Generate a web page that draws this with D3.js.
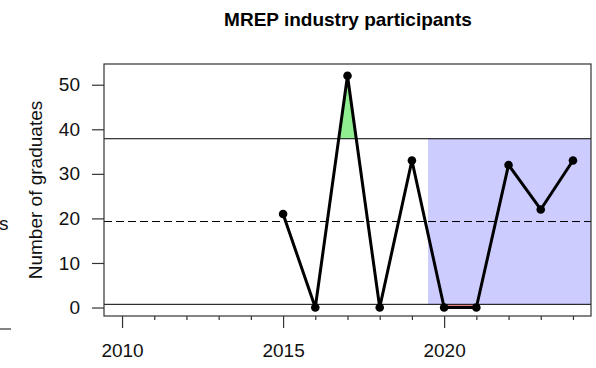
<!DOCTYPE html>
<html>
<head>
<meta charset="utf-8">
<script src="https://cdn.jsdelivr.net/npm/d3@7"></script>
<style>
  html, body { margin: 0; padding: 0; background: #fff; }
  svg { display: block; font-family: "Liberation Sans", Arial, sans-serif; }
</style>
</head>
<body>
<svg id="chart" width="596" height="368"></svg>
<script>
// Graduates per year
const years = [2015, 2016, 2017, 2018, 2019, 2020, 2021, 2022, 2023, 2024];
const graduates = [21, 0, 52, 0, 33, 0, 0, 32, 22, 33];

// Axis ticks
const yTicks = [0, 10, 20, 30, 40, 50];
const xMajorTicks = [2010, 2015, 2020];
const xMinorTicks = [2011, 2012, 2013, 2014, 2016, 2017, 2018, 2019, 2021, 2022, 2023, 2024];

// Start of the highlighted recent period
const periodStart = 2019.5;

const titleText = "MREP industry participants";
const yLabelText = "Number of graduates";

const data = years.map((yr, i) => ({ year: yr, value: graduates[i] }));

// Centre line and limits (mean ± one standard deviation)
const centre = d3.mean(graduates);
const sd = d3.deviation(graduates);
const upper = centre + sd;
const lower = centre - sd;

const svg = d3.select("#chart");
const box = { left: 104, right: 591, top: 64, bottom: 316 };

const x = d3.scaleLinear().domain([2009.44, 2024.56]).range([box.left, box.right]);
const y = d3.scaleLinear().domain([-1.9, 54.65]).range([box.bottom, box.top]);

const defs = svg.append("defs");
defs.append("clipPath").attr("id", "clip-above")
  .append("rect")
  .attr("x", box.left).attr("y", box.top)
  .attr("width", box.right - box.left).attr("height", y(upper) - box.top);
defs.append("clipPath").attr("id", "clip-below")
  .append("rect")
  .attr("x", box.left).attr("y", y(lower))
  .attr("width", box.right - box.left).attr("height", box.bottom - y(lower));

// Highlighted period between the limits
svg.append("rect")
  .attr("x", x(periodStart))
  .attr("y", y(upper))
  .attr("width", box.right - x(periodStart))
  .attr("height", y(lower) - y(upper))
  .attr("fill", "#ccccff");

// Excursions beyond the limits
svg.append("path")
  .datum(data)
  .attr("clip-path", "url(#clip-above)")
  .attr("fill", "#90ee90")
  .attr("d", d3.area().x(d => x(d.year)).y0(y(upper)).y1(d => y(d.value)));

svg.append("path")
  .datum(data)
  .attr("clip-path", "url(#clip-below)")
  .attr("fill", "#f08080")
  .attr("d", d3.area().x(d => x(d.year)).y0(y(lower)).y1(d => y(d.value)));

// Limit lines and centre line
[upper, lower].forEach(v => {
  svg.append("line")
    .attr("x1", box.left).attr("x2", box.right)
    .attr("y1", y(v)).attr("y2", y(v))
    .attr("stroke", "#000").attr("stroke-width", 1);
});
svg.append("line")
  .attr("x1", box.left).attr("x2", box.right)
  .attr("y1", y(centre)).attr("y2", y(centre))
  .attr("stroke", "#000").attr("stroke-width", 1)
  .attr("stroke-dasharray", "8,4");

// Series
svg.append("path")
  .datum(data)
  .attr("fill", "none")
  .attr("stroke", "#000")
  .attr("stroke-width", 3)
  .attr("stroke-linejoin", "round")
  .attr("d", d3.line().x(d => x(d.year)).y(d => y(d.value)));

svg.append("g").selectAll("circle")
  .data(data)
  .join("circle")
  .attr("cx", d => x(d.year))
  .attr("cy", d => y(d.value))
  .attr("r", 4.3)
  .attr("fill", "#000");

// Plot frame
svg.append("rect")
  .attr("x", box.left).attr("y", box.top)
  .attr("width", box.right - box.left).attr("height", box.bottom - box.top)
  .attr("fill", "none").attr("stroke", "#333").attr("stroke-width", 1.2);

// Y axis
const yAxis = d3.axisLeft(y).tickValues(yTicks).tickSize(12).tickPadding(12).tickFormat(d3.format("d"));
const gy = svg.append("g").attr("transform", `translate(${box.left},0)`).call(yAxis);
gy.select(".domain").remove();
gy.selectAll(".tick line").attr("stroke", "#333").attr("stroke-width", 1.2);
gy.selectAll(".tick text").attr("font-size", 19).attr("fill", "#111")
  .attr("font-family", "Liberation Sans, Arial, sans-serif");

// X axis: long ticks with labels, short ticks for the other years
const xAxis = d3.axisBottom(x).tickValues(xMajorTicks).tickSize(12).tickPadding(16).tickFormat(d3.format("d"));
const gx = svg.append("g").attr("transform", `translate(0,${box.bottom})`).call(xAxis);
gx.select(".domain").remove();
gx.selectAll(".tick line").attr("stroke", "#333").attr("stroke-width", 1.2);
gx.selectAll(".tick text").attr("font-size", 19).attr("fill", "#111")
  .attr("font-family", "Liberation Sans, Arial, sans-serif");

const xMinor = d3.axisBottom(x).tickValues(xMinorTicks).tickSize(4).tickFormat("");
const gxm = svg.append("g").attr("transform", `translate(0,${box.bottom})`).call(xMinor);
gxm.select(".domain").remove();
gxm.selectAll(".tick line").attr("stroke", "#333").attr("stroke-width", 1.2);

// Title
svg.append("text")
  .attr("x", 348).attr("y", 26)
  .attr("text-anchor", "middle")
  .attr("font-size", 19).attr("font-weight", "bold")
  .attr("fill", "#000")
  .text(titleText);

// Y axis title
svg.append("text")
  .attr("transform", "translate(42,190) rotate(-90)")
  .attr("text-anchor", "middle")
  .attr("font-size", 19)
  .attr("fill", "#111")
  .text(yLabelText);

// Edge of the neighbouring panel
svg.append("text")
  .attr("x", -1).attr("y", 230)
  .attr("font-size", 19)
  .attr("fill", "#111")
  .text("s");
svg.append("line")
  .attr("x1", 0).attr("x2", 11)
  .attr("y1", 329).attr("y2", 329)
  .attr("stroke", "#333").attr("stroke-width", 1.2);
</script>
</body>
</html>
